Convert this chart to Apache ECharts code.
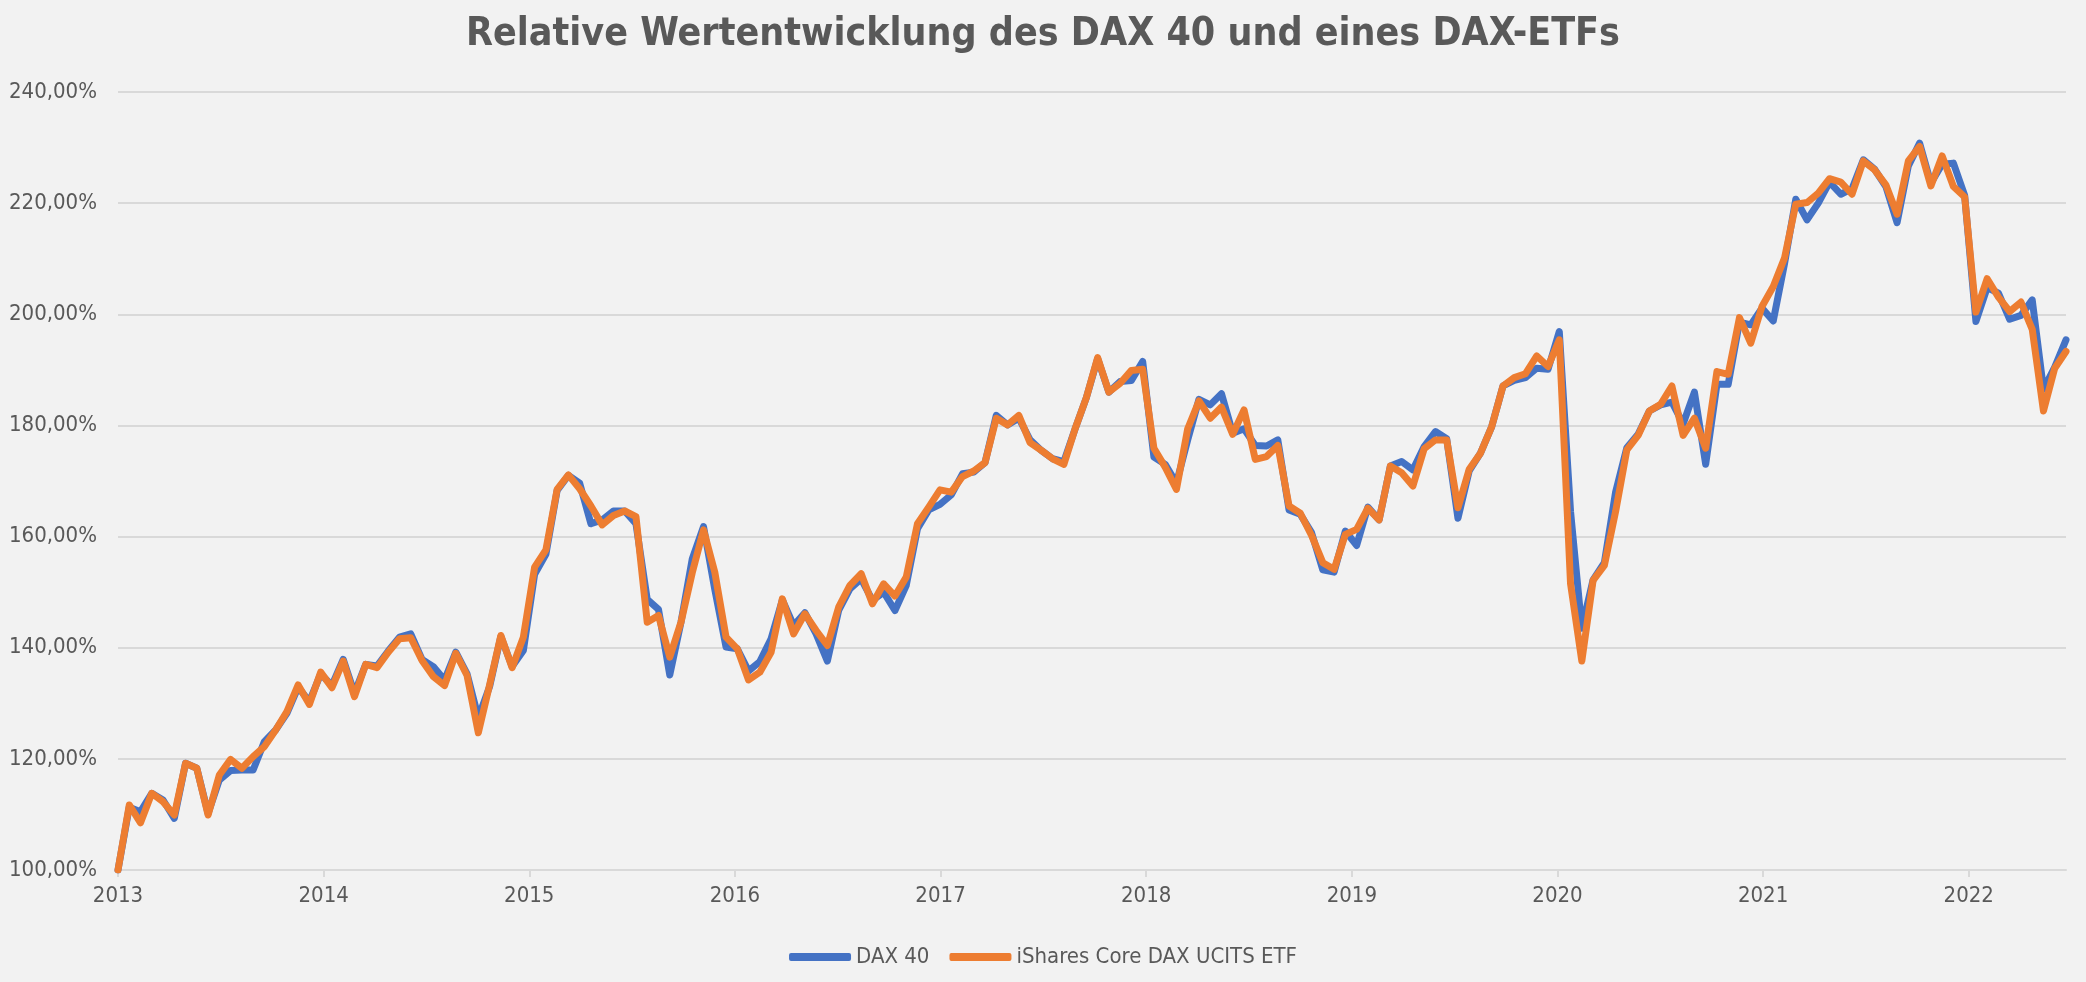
<!DOCTYPE html>
<html>
<head>
<meta charset="utf-8">
<script src="https://cdn.jsdelivr.net/npm/echarts@6/dist/echarts.min.js"></script>
<style>
html,body{margin:0;padding:0;background:#f2f2f2;}
#chart{width:2086px;height:982px;}
</style>
</head>
<body>
<div id="chart"></div>
<script>
// Data: samples every 20 days starting 1 Jan 2013 (relative value in %)
var startYear = 2013;
var stepDays = 20;
var yearTicks = [2013, 2014, 2015, 2016, 2017, 2018, 2019, 2020, 2021, 2022];
var yTicks = [100, 120, 140, 160, 180, 200, 220, 240];
var seriesNames = ['DAX 40', 'iShares Core DAX UCITS ETF'];

var dax40 = [
100.0,111.3,110.5,113.8,112.6,109.3,119.2,118.3,110.2,116.2,
117.9,118.0,118.0,123.1,125.2,128.2,132.9,130.3,135.3,133.2,
137.9,131.8,137.0,136.7,139.4,141.9,142.5,137.9,136.6,134.2,
139.2,135.3,127.4,133.0,142.0,136.6,139.5,153.2,156.8,168.3,
171.0,169.6,162.3,163.0,164.6,164.6,162.3,148.7,146.9,135.1,
144.6,156.0,161.8,150.5,140.1,139.8,135.8,137.5,141.6,148.6,
144.0,146.3,142.5,137.6,146.7,150.6,152.4,148.5,150.0,146.7,
151.2,161.4,164.8,165.8,167.5,171.3,171.6,173.3,181.8,180.1,
181.3,177.4,175.5,174.0,173.5,179.4,185.0,192.0,186.0,187.9,
188.1,191.5,174.3,173.0,169.6,177.4,184.7,183.7,185.7,178.6,
179.4,176.4,176.3,177.4,164.8,164.0,160.7,154.0,153.6,161.0,
158.4,165.3,163.0,172.7,173.5,172.0,176.2,178.9,177.6,163.3,
171.8,175.0,179.8,187.1,188.1,188.6,190.3,190.1,196.9,164.5,
143.5,152.2,155.3,168.0,176.0,178.4,182.6,183.7,184.2,180.3,
186.0,173.0,187.4,187.4,198.6,198.1,201.1,198.8,209.1,220.7,
217.0,220.0,223.8,221.6,222.6,227.8,226.1,223.0,216.5,226.7,
230.8,223.6,227.0,227.2,221.4,198.7,204.8,203.8,199.1,199.8,
202.6,186.5,190.5,195.4
];

var etf = [
100.0,111.7,108.5,113.8,112.3,109.9,119.2,118.3,109.9,117.1,
119.9,118.3,120.4,122.2,125.2,128.5,133.3,129.8,135.6,132.8,
137.6,131.2,137.0,136.4,139.2,141.6,141.8,137.7,134.8,133.2,
139.0,135.0,124.7,133.3,142.2,136.4,141.9,154.5,157.6,168.5,
171.1,168.6,165.5,162.1,163.8,164.6,163.6,144.6,145.8,138.3,
144.6,153.5,161.2,153.6,141.9,139.8,134.2,135.6,139.2,148.8,
142.5,146.1,143.1,140.4,147.3,151.2,153.3,147.9,151.5,149.3,
152.7,162.3,165.3,168.4,168.0,170.8,171.8,173.3,181.3,180.1,
181.8,176.9,175.5,174.0,173.0,179.4,185.0,192.2,186.0,187.6,
189.9,190.1,175.9,172.5,168.5,179.4,184.4,181.3,183.3,178.4,
182.8,173.9,174.4,176.4,165.5,164.2,160.2,155.3,154.1,160.4,
161.3,165.1,163.0,172.7,171.5,169.1,175.8,177.4,177.4,165.2,
172.1,175.0,179.8,187.1,188.6,189.3,192.5,190.6,195.4,151.5,
137.6,152.1,154.8,164.5,175.6,178.2,182.6,183.8,187.1,178.2,
181.3,175.9,189.7,189.2,199.4,194.8,201.4,205.0,210.1,219.8,
220.1,221.8,224.4,223.8,221.6,227.6,226.0,223.3,218.0,227.6,
230.2,223.1,228.5,223.0,221.1,200.4,206.4,203.1,200.5,202.2,
197.3,182.6,190.3,193.3
];

function toPairs(arr) {
  return arr.map(function (v, i) {
    return [startYear + i * stepDays / 365.25, v];
  });
}
var lastX = startYear + (dax40.length - 1) * stepDays / 365.25;

var FONT = "'DejaVu Sans Condensed', 'Liberation Sans Narrow', sans-serif";
var chart = echarts.init(document.getElementById('chart'));
chart.setOption({
  backgroundColor: '#f2f2f2',
  animation: false,
  title: {
    text: 'Relative Wertentwicklung des DAX 40 und eines DAX-ETFs',
    left: 'center',
    top: 10,
    textStyle: { fontFamily: FONT, fontSize: 39, fontWeight: 'bold', color: '#595959' }
  },
  legend: {
    data: seriesNames,
    left: 'center',
    top: 941,
    itemWidth: 62,
    itemHeight: 8,
    itemGap: 20,
    icon: 'roundRect',
    textStyle: { fontFamily: FONT, fontSize: 22, color: '#595959' }
  },
  grid: { left: 118, right: 20, top: 92, bottom: 112, containLabel: false },
  xAxis: {
    type: 'value',
    min: startYear,
    max: lastX,
    interval: 1,
    axisLine: { show: true, lineStyle: { color: '#d9d9d9', width: 2 } },
    axisTick: { show: true, length: 7, lineStyle: { color: '#d9d9d9', width: 2 }, customValues: yearTicks },
    axisLabel: {
      customValues: yearTicks,
      margin: 15,
      fontFamily: FONT, fontSize: 22, color: '#595959',
      formatter: function (v) { return String(Math.round(v)); }
    },
    splitLine: { show: false }
  },
  yAxis: {
    type: 'value',
    min: yTicks[0],
    max: yTicks[yTicks.length - 1],
    interval: 20,
    axisLine: { show: false },
    axisTick: { show: false },
    axisLabel: {
      margin: 21,
      fontFamily: FONT, fontSize: 22, color: '#595959',
      formatter: function (v) { return v.toFixed(2).replace('.', ',') + '%'; }
    },
    splitLine: { lineStyle: { color: '#d9d9d9', width: 2 } }
  },
  series: [
    {
      name: seriesNames[0], type: 'line', data: toPairs(dax40),
      showSymbol: false, symbol: 'none',
      lineStyle: { color: '#4472c4', width: 7, join: 'round', cap: 'round' },
      itemStyle: { color: '#4472c4' }
    },
    {
      name: seriesNames[1], type: 'line', data: toPairs(etf),
      showSymbol: false, symbol: 'none',
      lineStyle: { color: '#ed7d31', width: 7, join: 'round', cap: 'round' },
      itemStyle: { color: '#ed7d31' }
    }
  ]
});
</script>
</body>
</html>
